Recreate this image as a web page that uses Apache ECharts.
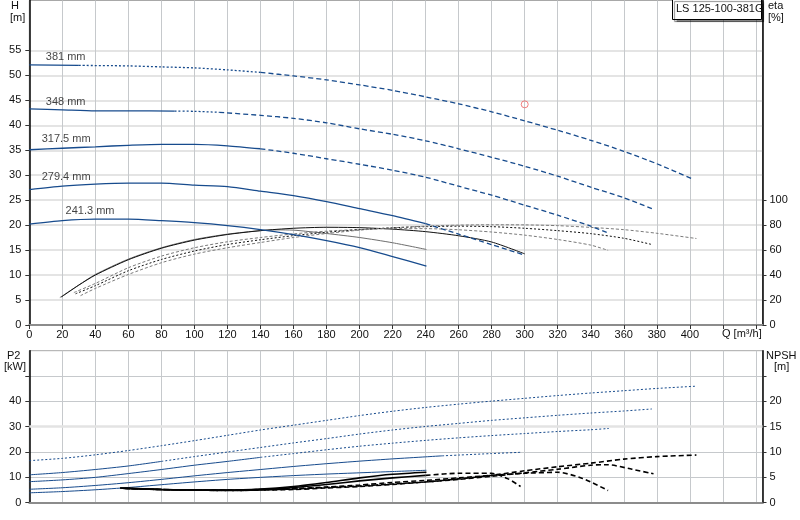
<!DOCTYPE html>
<html><head><meta charset="utf-8">
<script src="https://cdn.jsdelivr.net/npm/echarts@6/dist/echarts.min.js"></script>
<style>html,body{margin:0;padding:0;background:#fff}#c{width:800px;height:520px}</style>
</head><body><div id="c"></div><script>
// ---------- data ----------
const pumpName = 'LS 125-100-381G';
const diameters = ['381 mm', '348 mm', '317.5 mm', '279.4 mm', '241.3 mm'];
const labelAnchors = [[22, 53.7], [22, 44.7], [22.3, 37.3], [22.3, 29.7], [36.8, 22.8]];

// Head H [m] vs Q [m3/h]
const head381 = [[0,52.1],[30,52.0],[60,51.9],[80,51.7],[100,51.5],[120,51.1],[140,50.6],[160,49.9],[180,49.1],[200,48.1],[220,47.0],[240,45.7],[260,44.3],[280,42.7],[300,40.9],[320,39.0],[340,37.0],[360,34.8],[380,32.3],[402,29.2]];
const head348 = [[0,43.3],[20,43.1],[40,42.9],[60,42.9],[88,42.85],[100,42.8],[115,42.6],[140,42.0],[160,41.4],[180,40.5],[200,39.3],[220,38.2],[240,36.9],[260,35.3],[280,33.6],[300,31.8],[320,29.8],[340,27.6],[360,25.5],[377,23.3]];
const head317 = [[0,35.1],[20,35.4],[40,35.7],[60,36.0],[80,36.2],[100,36.2],[120,35.9],[140,35.3],[160,34.4],[180,33.3],[200,32.2],[220,31.0],[240,29.6],[260,27.8],[280,26.0],[300,24.0],[320,22.0],[340,19.8],[350,18.5]];
const head279 = [[0,27.1],[20,27.8],[40,28.2],[60,28.4],[80,28.4],[100,28.0],[120,27.7],[140,26.8],[160,25.9],[180,24.7],[200,23.3],[220,21.9],[240,20.3],[260,18.2],[280,16.1],[300,14.0]];
const head241 = [[0,20.2],[20,20.9],[40,21.2],[60,21.2],[80,20.9],[100,20.5],[120,19.9],[140,19.1],[160,18.1],[180,16.9],[200,15.5],[220,13.7],[240.5,11.8]];

// Efficiency eta [%]
const eta381 = [[31,23.5],[40,29.3],[60,40.5],[80,49.9],[100,56.8],[120,61.9],[140,66.1],[160,70.1],[180,73.3],[200,76],[220,77.9],[240,79.2],[260,80],[280,80.3],[300,80.2],[320,79.6],[340,78.2],[360,76.4],[380,73.5],[404,69.3]];
const eta348 = [[28,25],[40,31.5],[60,43.5],[80,52.5],[100,59.3],[120,64.5],[140,68.3],[160,71.6],[180,74.3],[200,76.4],[220,77.9],[240,78.8],[260,79.2],[280,78.8],[300,77.5],[320,75.6],[340,73.2],[360,69.5],[377,64.5]];
const eta317 = [[27,26],[40,33.3],[60,45.9],[80,55.2],[100,61.9],[120,66.7],[140,70.1],[160,73],[180,75.2],[200,76.5],[220,77.2],[240,77.2],[260,76.3],[280,74.5],[300,72],[320,68.5],[340,64],[350.5,59.8]];
const eta279 = [[19.5,22.5],[30,32],[40,40],[60,52.3],[80,61.5],[100,68],[120,72.5],[140,75.6],[160,77.5],[180,78.3],[200,78],[220,76.8],[240,74.8],[260,71.5],[280,66.5],[300,57]];
const eta241 = [[18.5,22],[30,32],[40,40.5],[60,52.8],[80,61.9],[100,68.5],[120,72.8],[140,75.6],[150,76.2],[160,76],[180,73.3],[200,70.1],[220,65.9],[240.5,60.5]];

// Power P2 [kW]
const p2_381 = [[0,16.6],[20,17.5],[40,18.9],[60,20.6],[80,22.5],[100,24.5],[120,26.6],[140,28.7],[160,30.6],[180,32.5],[200,34.4],[220,36.1],[240,37.6],[260,38.9],[280,40.1],[300,41.2],[320,42.3],[340,43.3],[360,44.2],[380,45.1],[404,46.0]];
const p2_348 = [[0,11.0],[20,11.9],[40,13.1],[60,14.5],[80,16.3],[100,18.2],[120,20.0],[140,21.8],[160,23.6],[180,25.3],[200,27.1],[220,28.7],[240,30.1],[260,31.3],[280,32.5],[300,33.5],[320,34.5],[340,35.4],[360,36.2],[377,37.0]];
const p2_317 = [[0,8.3],[20,9.0],[40,10.0],[60,11.5],[80,13.1],[100,14.8],[120,16.3],[140,17.9],[160,19.4],[180,20.9],[200,22.3],[220,23.5],[240,24.6],[260,25.6],[280,26.5],[300,27.3],[320,28.1],[340,28.8],[351,29.3]];
const p2_279 = [[0,5.3],[20,5.9],[40,6.8],[60,7.9],[80,9.2],[100,10.6],[120,11.9],[140,13.1],[160,14.3],[180,15.4],[200,16.4],[220,17.3],[240,18.1],[250,18.5],[260,18.8],[280,19.4],[298,19.9]];
const p2_241 = [[0,3.9],[20,4.4],[40,5.1],[60,6.0],[80,7.1],[100,8.2],[120,9.2],[140,10.0],[160,10.7],[180,11.3],[200,11.8],[220,12.3],[240.5,12.8]];

// NPSH [m]
const npsh381 = [[60,2.8],[80,2.6],[100,2.5],[120,2.4],[140,2.5],[160,2.6],[180,2.9],[200,3.2],[220,3.6],[240,4.1],[260,4.7],[280,5.4],[300,6.3],[320,7.1],[340,7.8],[360,8.6],[380,9.1],[404,9.4]];
const npsh348 = [[58,2.8],[80,2.6],[100,2.5],[120,2.4],[140,2.5],[160,2.7],[180,3.0],[200,3.3],[220,3.7],[240,4.1],[260,4.6],[280,5.2],[300,5.9],[320,6.6],[340,7.4],[350,7.5],[365,6.6],[378,5.7]];
const npsh317 = [[57,2.8],[80,2.6],[100,2.5],[120,2.5],[140,2.6],[160,2.8],[180,3.1],[200,3.5],[220,4.0],[240,4.4],[260,4.9],[280,5.4],[300,5.8],[320,6.0],[335,4.8],[350.5,2.4]];
const npsh279 = [[55,2.9],[80,2.6],[100,2.5],[120,2.5],[140,2.6],[160,3.0],[180,3.6],[200,4.3],[220,4.9],[240,5.4],[260,5.8],[280,5.8],[290,4.7],[297.5,3.2]];
const npsh241 = [[55,2.9],[80,2.6],[100,2.5],[120,2.5],[140,2.7],[160,3.2],[180,4.0],[200,4.9],[220,5.6],[240.5,6.0]];

const dutyPoint = [[300, 44.2]];

const qTicks = [0,20,40,60,80,100,120,140,160,180,200,220,240,260,280,300,320,340,360,380,400,420,440];
const qLabels = [0,20,40,60,80,100,120,140,160,180,200,220,240,260,280,300,320,340,360,380,400];
const hTicks = [0,5,10,15,20,25,30,35,40,45,50,55];
const etaTicks = [0,20,40,60,80,100];
const p2Ticks = [0,10,20,30,40,50];
const p2Labels = [0,10,20,30,40];
const npshTicks = [0,5,10,15,20,25];
const npshLabels = [0,5,10,15,20];

// ---------- helpers ----------
const BLUE = '#174b8d';
const FONT = '"Liberation Sans", Arial, sans-serif';
function seg(d, a, b) { return d.filter(p => p[0] >= a && p[0] <= b); }
function line(data, xi, yi, color, width, type, z) {
  return { type: 'line', data: data, xAxisIndex: xi, yAxisIndex: yi, symbol: 'none', smooth: 0.25,
    lineStyle: { color: color, width: width, type: type }, silent: true, animation: false, z: z || 2 };
}
const DASH = [5, 3], DOT = [2, 2], FINE = [3, 2], NDASH = [5, 3];

const series = [];
// efficiency (grid 0, yAxis 1)
series.push(line(eta241, 0, 1, '#6e6e6e', 1, 'solid'));
series.push(line(eta279, 0, 1, '#111', 1, 'solid'));
series.push(line(eta317, 0, 1, '#7a7a7a', 1, FINE));
series.push(line(eta348, 0, 1, '#111', 1, [2, 2]));
series.push(line(eta381, 0, 1, '#7a7a7a', 1, FINE));
// heads
series.push(line(seg(head381, 0, 30), 0, 0, BLUE, 1.3, 'solid', 3));
series.push(line(seg(head381, 30, 140), 0, 0, BLUE, 1.3, DOT, 3));
series.push(line(seg(head381, 140, 402), 0, 0, BLUE, 1.3, DASH, 3));
series.push(line(seg(head348, 0, 88), 0, 0, BLUE, 1.3, 'solid', 3));
series.push(line(seg(head348, 88, 115), 0, 0, BLUE, 1.3, DOT, 3));
series.push(line(seg(head348, 115, 377), 0, 0, BLUE, 1.3, DASH, 3));
series.push(line(seg(head317, 0, 140), 0, 0, BLUE, 1.3, 'solid', 3));
series.push(line(seg(head317, 140, 350), 0, 0, BLUE, 1.3, DASH, 3));
series.push(line(seg(head279, 0, 240), 0, 0, BLUE, 1.3, 'solid', 3));
series.push(line(seg(head279, 240, 300), 0, 0, BLUE, 1.3, DASH, 3));
series.push(line(head241, 0, 0, BLUE, 1.3, 'solid', 3));
// P2 (grid 1, yAxis 2)
const p2line = line(p2_381, 1, 2, BLUE, 1, DOT);
p2line.markLine = { silent: true, symbol: 'none', label: { show: false }, animation: false,
  lineStyle: { color: '#e3e3e3', width: 2.5, type: 'solid' }, data: [{ yAxis: 30 }], z: 1 };
series.push(p2line);
series.push(line(seg(p2_348, 0, 80), 1, 2, BLUE, 1, 'solid'));
series.push(line(seg(p2_348, 80, 377), 1, 2, BLUE, 1, DOT));
series.push(line(seg(p2_317, 0, 140), 1, 2, BLUE, 1, 'solid'));
series.push(line(seg(p2_317, 140, 351), 1, 2, BLUE, 1, DOT));
series.push(line(seg(p2_279, 0, 250), 1, 2, BLUE, 1, 'solid'));
series.push(line(seg(p2_279, 250, 298), 1, 2, BLUE, 1, DOT));
series.push(line(p2_241, 1, 2, BLUE, 1, 'solid'));
// NPSH (grid 1, yAxis 3)
series.push(line(npsh241, 1, 3, '#000', 1.6, 'solid', 3));
series.push(line(seg(npsh279, 0, 240), 1, 3, '#000', 1.6, 'solid', 3));
series.push(line(seg(npsh279, 240, 300), 1, 3, '#000', 1.6, NDASH, 3));
series.push(line(npsh317, 1, 3, '#000', 1.6, NDASH, 3));
series.push(line(npsh348, 1, 3, '#000', 1.6, NDASH, 3));
series.push(line(npsh381, 1, 3, '#000', 1.6, NDASH, 3));
// duty point
series.push({ type: 'scatter', data: dutyPoint, xAxisIndex: 0, yAxisIndex: 0, symbol: 'circle', symbolSize: 7,
  itemStyle: { color: 'rgba(255,255,255,0)', borderColor: '#ee6060', borderWidth: 1 }, silent: true, animation: false, z: 5 });
// diameter labels
series.push({ type: 'scatter', xAxisIndex: 0, yAxisIndex: 0, symbolSize: 0, silent: true, animation: false, z: 6,
  data: diameters.map((n, i) => ({ name: n, value: labelAnchors[i] })),
  label: { show: true, position: 'inside', formatter: p => p.name, color: '#111', fontSize: 11, fontFamily: FONT } });

const labelStyle = { color: '#111', fontSize: 11, fontFamily: FONT };
function yAx(grid, pos, min, max, interval, ticks, labels, split) {
  return { type: 'value', gridIndex: grid, position: pos, min: min, max: max, interval: interval,
    axisLine: { show: true, onZero: false, lineStyle: { color: '#000', width: 1.5 } },
    axisTick: { show: true, length: 4, customValues: ticks, lineStyle: { color: '#333' } },
    axisLabel: Object.assign({ customValues: labels, margin: pos === 'left' ? 8 : 7 }, labelStyle),
    splitLine: split || { show: false } };
}

const option = {
  backgroundColor: '#fff',
  animation: false,
  grid: [
    { left: 29.3, right: 37.5, top: 0.5, height: 324.5, show: true, borderColor: '#a8a8a8', borderWidth: 1 },
    { left: 29.3, right: 37.5, top: 350.7, height: 152, show: true, borderColor: '#a8a8a8', borderWidth: 1 }
  ],
  xAxis: [
    { type: 'value', gridIndex: 0, min: 0, max: 444, interval: 20,
      axisLine: { show: true, onZero: false, lineStyle: { color: '#8c8c8c', width: 2 } },
      axisTick: { show: true, length: 4, customValues: qTicks, lineStyle: { color: '#333' } },
      axisLabel: Object.assign({ customValues: qLabels, margin: 4 }, labelStyle),
      splitLine: { show: true, lineStyle: { color: '#c6c9cc', width: 1 } } },
    { type: 'value', gridIndex: 1, min: 0, max: 444, interval: 20,
      axisLine: { show: true, onZero: false, lineStyle: { color: '#8c8c8c', width: 2 } },
      axisTick: { show: false }, axisLabel: { show: false },
      splitLine: { show: true, lineStyle: { color: '#c6c9cc', width: 1 } } }
  ],
  yAxis: [
    yAx(0, 'left', 0, 65, 5, hTicks, hTicks, { show: true, lineStyle: { color: '#e4e4e4', width: 2 } }),
    yAx(0, 'right', 0, 260, 20, etaTicks, etaTicks),
    yAx(1, 'left', 0, 60, 10, p2Ticks, p2Labels, { show: true, lineStyle: { color: '#c6c9cc', width: 1 } }),
    yAx(1, 'right', 0, 30, 5, npshTicks, npshLabels)
  ],
  graphic: [
    { type: 'text', left: 11, top: 0, style: { text: 'H', font: '11px ' + FONT, fill: '#111' } },
    { type: 'text', left: 10, top: 12, style: { text: '[m]', font: '11px ' + FONT, fill: '#111' } },
    { type: 'text', left: 768, top: 0, style: { text: 'eta', font: '11px ' + FONT, fill: '#111' } },
    { type: 'text', left: 768, top: 12, style: { text: '[%]', font: '11px ' + FONT, fill: '#111' } },
    { type: 'text', left: 7, top: 350, style: { text: 'P2', font: '11px ' + FONT, fill: '#111' } },
    { type: 'text', left: 4, top: 361, style: { text: '[kW]', font: '11px ' + FONT, fill: '#111' } },
    { type: 'text', left: 766, top: 350, style: { text: 'NPSH', font: '11px ' + FONT, fill: '#111' } },
    { type: 'text', left: 774, top: 361, style: { text: '[m]', font: '11px ' + FONT, fill: '#111' } },
    { type: 'text', left: 722, top: 328, style: { text: 'Q [m³/h]', font: '11px ' + FONT, fill: '#111' } },
    { type: 'rect', left: 672, top: -1, z: 10,
      shape: { width: 89, height: 20 },
      style: { fill: '#fff', stroke: '#000', lineWidth: 1, shadowColor: 'rgba(0,0,0,0.45)', shadowOffsetX: 2, shadowOffsetY: 2, shadowBlur: 1 } },
    { type: 'text', left: 676, top: 3, z: 11, style: { text: pumpName, font: '11px ' + FONT, fill: '#111' } }
  ],
  series: series
};
const chart = echarts.init(document.getElementById('c'));
chart.setOption(option);
</script></body></html>
